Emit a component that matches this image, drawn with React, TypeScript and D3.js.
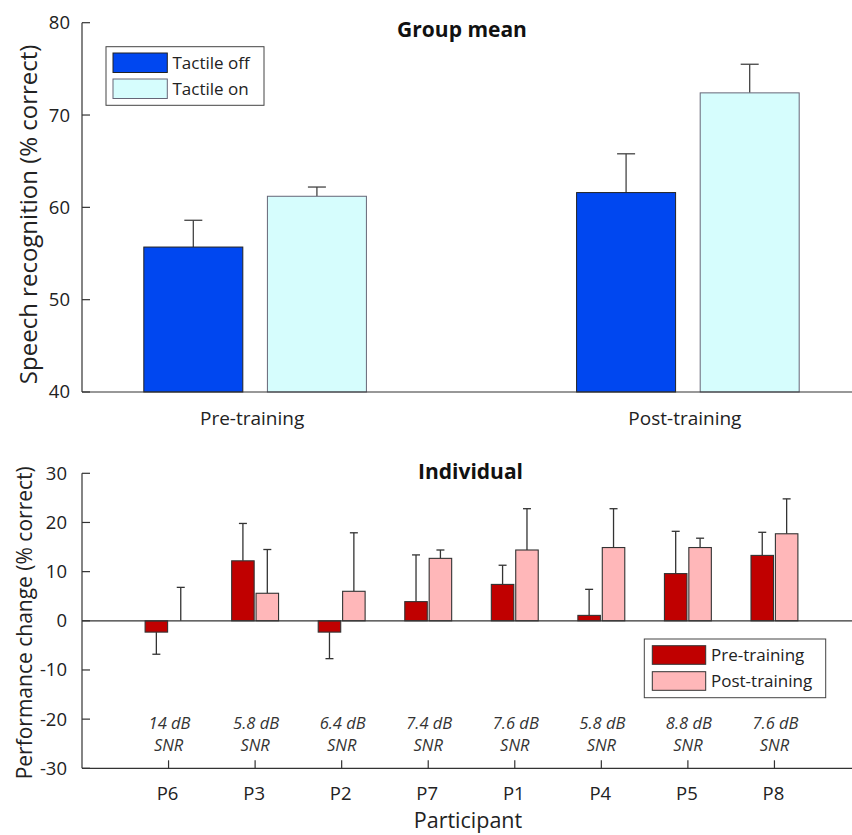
import React from "react";
import * as d3 from "d3";

const groupCategories = ["Pre-training", "Post-training"];
const groupSeries = ["Tactile off", "Tactile on"];
const groupMeans = [
  [55.7, 61.2],
  [61.6, 72.4],
];
const groupErrTops = [
  [58.6, 62.2],
  [65.8, 75.5],
];
const groupTicks = [40, 50, 60, 70, 80];

const participants = ["P6", "P3", "P2", "P7", "P1", "P4", "P5", "P8"];
const snrLabels = ["14 dB", "5.8 dB", "6.4 dB", "7.4 dB", "7.6 dB", "5.8 dB", "8.8 dB", "7.6 dB"];
const indivSeries = ["Pre-training", "Post-training"];
const preValues = [-2.3, 12.2, -2.3, 3.9, 7.4, 1.1, 9.6, 13.3];
const preErrEnds = [-6.8, 19.8, -7.7, 13.4, 11.3, 6.4, 18.2, 18.0];
const postValues = [0, 5.6, 6.0, 12.7, 14.4, 14.9, 14.9, 17.7];
const postErrEnds = [6.8, 14.5, 17.9, 14.4, 22.8, 22.8, 16.8, 24.8];
const indivTicks = [-30, -20, -10, 0, 10, 20, 30];

const groupColors = ["#0047f0", "#d6fdfd"];
const indivColors = ["#c00000", "#ffb7b9"];
const FONT = "'Open Sans', 'Noto Sans', sans-serif";
const AX = "#333333";

export default function App() {
  const W = 852;
  const H = 835;
  const x0 = 82;
  const x1 = 861;

  // top chart
  const yTop = d3.scaleLinear().domain([40, 80]).range([392, 22.7]);
  const xTop = d3.scaleLinear().domain([0.6, 2.4]).range([x0, x1]);
  const groupBarW = 99;
  const groupOffset = 61.8;

  // bottom chart
  const yBot = d3.scaleLinear().domain([-30, 30]).range([768.3, 473.3]);
  const xBot = d3.scaleLinear().domain([0, 9]).range([x0, x1]);
  const indBarW = 22.5;
  const indOffset = 12.2;

  return (
    <svg
      width={W}
      height={H}
      style={{ position: "absolute", left: 0, top: 0, background: "#fff" }}
      fontFamily={FONT}
    >
      <rect x={0} y={0} width={W} height={H} fill="#fff" />
      {/* ===== Top: Group mean ===== */}
      <g>
        {groupCategories.map((c, i) =>
          groupSeries.map((s, j) => {
            const cx = xTop(i + 1) + (j === 0 ? -groupOffset : groupOffset);
            const yv = yTop(groupMeans[i][j]);
            const ye = yTop(groupErrTops[i][j]);
            return (
              <g key={c + s}>
                <line x1={cx} x2={cx} y1={yv} y2={ye} stroke="#444" strokeWidth={1.3} />
                <line x1={cx - 9} x2={cx + 9} y1={ye} y2={ye} stroke="#444" strokeWidth={1.3} />
                <rect
                  x={cx - groupBarW / 2}
                  y={yv}
                  width={groupBarW}
                  height={yTop(40) - yv}
                  fill={groupColors[j]}
                  stroke={j === 0 ? "#222" : "#667"}
                  strokeWidth={1}
                />
              </g>
            );
          })
        )}
        {/* axes */}
        <line x1={x0} x2={x0} y1={yTop(80)} y2={yTop(40)} stroke={AX} strokeWidth={1.2} />
        <line x1={x0} x2={x1} y1={yTop(40)} y2={yTop(40)} stroke={AX} strokeWidth={1.2} />
        {groupTicks.map((t) => (
          <g key={t}>
            <line x1={x0} x2={x0 + 8} y1={yTop(t)} y2={yTop(t)} stroke={AX} strokeWidth={1.2} />
            <text x={70} y={yTop(t)} dy="0.35em" textAnchor="end" fontSize={18.5} fill="#222">
              {t}
            </text>
          </g>
        ))}
        {groupCategories.map((c, i) => (
          <text key={c} x={xTop(i + 1) - 3} y={425} textAnchor="middle" fontSize={19} fill="#222">
            {c}
          </text>
        ))}
        <text x={462} y={37} textAnchor="middle" fontSize={21} fontWeight="bold" fill="#111">
          Group mean
        </text>
        <text
          transform={`translate(37,${(yTop(40) + yTop(80)) / 2 + 7}) rotate(-90)`}
          textAnchor="middle"
          fontSize={24}
          fill="#222"
        >
          Speech recognition (% correct)
        </text>
        {/* legend */}
        <rect x={106} y={46.7} width={158} height={58.6} fill="#fff" stroke="#444" strokeWidth={1} />
        {groupSeries.map((s, j) => (
          <g key={s}>
            <rect
              x={113}
              y={53 + j * 26}
              width={54.3}
              height={19.5}
              fill={groupColors[j]}
              stroke={j === 0 ? "#222" : "#667"}
              strokeWidth={1}
            />
            <text x={172.5} y={62.8 + j * 26} dy="0.35em" fontSize={17} fill="#222">
              {s}
            </text>
          </g>
        ))}
      </g>

      {/* ===== Bottom: Individual ===== */}
      <g>
        {participants.map((p, i) => {
          const vals = [preValues[i], postValues[i]];
          const ends = [preErrEnds[i], postErrEnds[i]];
          return (
            <g key={p}>
              {vals.map((v, j) => {
                const cx = xBot(i + 1) + (j === 0 ? -indOffset : indOffset);
                const y0 = yBot(0);
                const yv = yBot(v);
                const ye = yBot(ends[j]);
                return (
                  <g key={j}>
                    <line x1={cx} x2={cx} y1={yv} y2={ye} stroke="#333" strokeWidth={1.3} />
                    <line x1={cx - 4} x2={cx + 4} y1={ye} y2={ye} stroke="#333" strokeWidth={1.3} />
                    {v !== 0 && (
                      <rect
                        x={cx - indBarW / 2}
                        y={Math.min(yv, y0)}
                        width={indBarW}
                        height={Math.abs(yv - y0)}
                        fill={indivColors[j]}
                        stroke="#333"
                        strokeWidth={1.1}
                      />
                    )}
                  </g>
                );
              })}
            </g>
          );
        })}
        {/* zero line */}
        <line x1={x0} x2={x1} y1={yBot(0)} y2={yBot(0)} stroke={AX} strokeWidth={1.2} />
        {/* axes */}
        <line x1={x0} x2={x0} y1={yBot(30)} y2={yBot(-30)} stroke={AX} strokeWidth={1.2} />
        <line x1={x0} x2={x1} y1={yBot(-30)} y2={yBot(-30)} stroke={AX} strokeWidth={1.2} />
        {indivTicks.map((t) => (
          <g key={t}>
            <line x1={x0} x2={x0 + 8} y1={yBot(t)} y2={yBot(t)} stroke={AX} strokeWidth={1.2} />
            <text x={67} y={yBot(t)} dy="0.35em" textAnchor="end" fontSize={18.5} fill="#222">
              {t}
            </text>
          </g>
        ))}
        {participants.map((p, i) => (
          <g key={p}>
            <line
              x1={xBot(i + 1)}
              x2={xBot(i + 1)}
              y1={yBot(-30)}
              y2={yBot(-30) - 8}
              stroke={AX}
              strokeWidth={1.2}
            />
            <text x={xBot(i + 1) - 1} y={800} textAnchor="middle" fontSize={18.5} fill="#222">
              {p}
            </text>
            <text
              x={xBot(i + 1) + 1}
              y={728.5}
              textAnchor="middle"
              fontSize={16.5}
              fontStyle="italic"
              fill="#333"
            >
              {snrLabels[i]}
            </text>
            <text
              x={xBot(i + 1)}
              y={751}
              textAnchor="middle"
              fontSize={16.5}
              fontStyle="italic"
              fill="#333"
            >
              SNR
            </text>
          </g>
        ))}
        <text x={468} y={828} textAnchor="middle" fontSize={21.5} fill="#222">
          Participant
        </text>
        <text x={470.5} y={479} textAnchor="middle" fontSize={21} fontWeight="bold" fill="#111">
          Individual
        </text>
        <text
          transform={`translate(32,${(yBot(30) + yBot(-30)) / 2 + 2}) rotate(-90)`}
          textAnchor="middle"
          fontSize={21}
          fill="#222"
        >
          Performance change (% correct)
        </text>
        {/* legend */}
        <rect x={644.3} y={639} width={181.4} height={58.7} fill="#fff" stroke="#444" strokeWidth={1} />
        {indivSeries.map((s, j) => (
          <g key={s}>
            <rect
              x={652.3}
              y={645.7 + j * 26}
              width={53.4}
              height={18.6}
              fill={indivColors[j]}
              stroke="#333"
              strokeWidth={1}
            />
            <text x={711} y={655 + j * 26} dy="0.35em" fontSize={17} fill="#222">
              {s}
            </text>
          </g>
        ))}
      </g>
    </svg>
  );
}
